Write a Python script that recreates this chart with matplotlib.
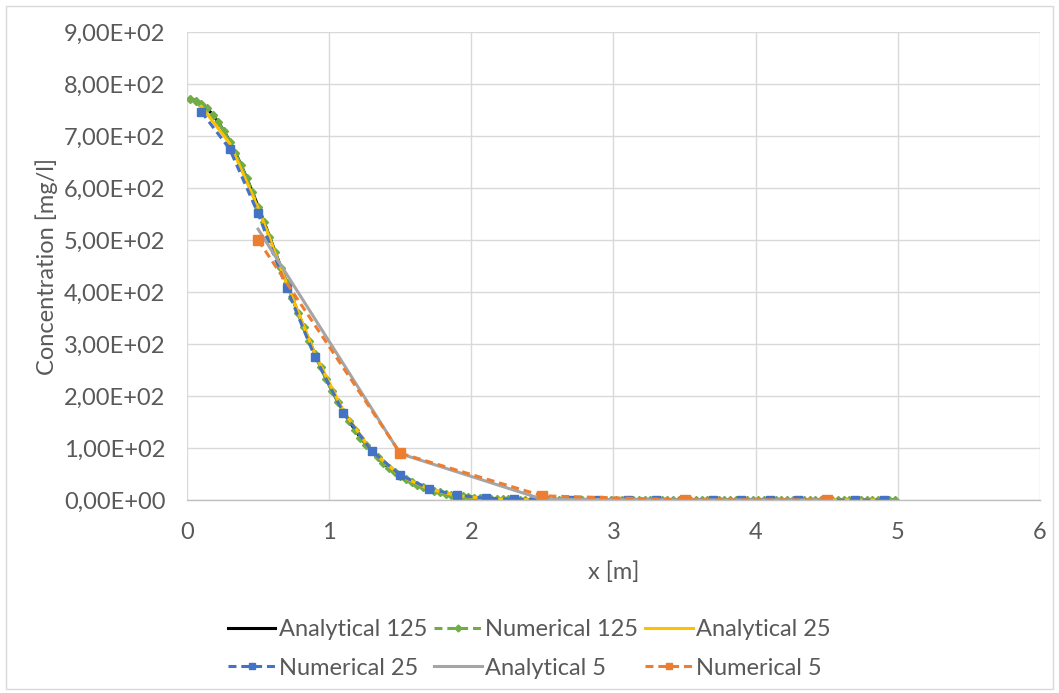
import matplotlib.pyplot as plt
from matplotlib.ticker import FuncFormatter, MultipleLocator
from matplotlib.patches import Rectangle
from matplotlib.lines import Line2D

plt.rcParams['font.family'] = ['Lato', 'DejaVu Sans']

# 125 cells, dx = 0.04
x125 = [round(0.02 + 0.04 * i, 2) for i in range(125)]
ana125 = [771.6, 768.5, 762.4, 753.3, 741.3, 726.7, 709.5, 689.9, 668.2, 644.5,
          619.2, 592.6, 564.8, 536.2, 506.9, 477.5, 447.9, 418.4, 389.3, 360.8,
          333.1, 306.2, 280.5, 255.8, 232.4, 210.3, 189.5, 170.1, 152.1, 135.4,
          120.1, 106.1, 93.3, 81.8, 71.4, 62.1, 53.8, 46.4, 39.9, 34.1,
          29.0, 24.6, 20.8, 17.5, 14.7, 12.3, 10.2, 8.5, 7.0, 5.7,
          4.7, 3.8, 3.1, 2.5, 2.0, 1.6, 1.3, 1.0, 0.8, 0.6,
          0.5, 0.4, 0.3, 0.2, 0.2, 0.1, 0.1, 0, 0, 0,
          0, 0, 0, 0, 0, 0, 0, 0, 0, 0,
          0, 0, 0, 0, 0, 0, 0, 0, 0, 0,
          0, 0, 0, 0, 0, 0, 0, 0, 0, 0,
          0, 0, 0, 0, 0, 0, 0, 0, 0, 0,
          0, 0, 0, 0, 0, 0, 0, 0, 0, 0,
          0, 0, 0, 0, 0]
num125 = [771.0, 768.0, 762.0, 753.0, 741.0, 726.0, 709.0, 689.0, 667.5, 644.0,
          618.5, 592.0, 564.0, 535.5, 506.0, 476.5, 447.0, 417.5, 388.5, 360.0,
          332.5, 305.5, 280.0, 255.3, 232.0, 210.0, 189.2, 169.9, 152.0, 135.3,
          120.0, 106.0, 93.3, 81.8, 71.5, 62.2, 53.9, 46.5, 40.0, 34.2,
          29.1, 24.7, 20.9, 17.6, 14.8, 12.4, 10.3, 8.6, 7.1, 5.8,
          4.8, 3.9, 3.2, 2.6, 2.1, 1.7, 1.3, 1.0, 0.8, 0.6,
          0.5, 0.4, 0.3, 0.2, 0.2, 0.1, 0.1, 0, 0, 0,
          0, 0, 0, 0, 0, 0, 0, 0, 0, 0,
          0, 0, 0, 0, 0, 0, 0, 0, 0, 0,
          0, 0, 0, 0, 0, 0, 0, 0, 0, 0,
          0, 0, 0, 0, 0, 0, 0, 0, 0, 0,
          0, 0, 0, 0, 0, 0, 0, 0, 0, 0,
          0, 0, 0, 0, 0]

# 25 cells, dx = 0.2
x25 = [0.1, 0.3, 0.5, 0.7, 0.9, 1.1, 1.3, 1.5, 1.7, 1.9, 2.1, 2.3, 2.5,
       2.7, 2.9, 3.1, 3.3, 3.5, 3.7, 3.9, 4.1, 4.3, 4.5, 4.7, 4.9]
ana25 = [757, 686, 562, 417, 281, 171, 94, 47, 21, 8.5, 3, 1, 0.3,
         0.1, 0, 0, 0, 0, 0, 0, 0, 0, 0, 0, 0]
num25 = [747, 675, 551, 408, 275, 168, 94, 48, 22, 9, 3.5, 1.5, 0.5,
         0.2, 0, 0, 0, 0, 0, 0, 0, 0, 0, 0, 0]

# 5 cells, dx = 1
x5 = [0.5, 1.5, 2.5, 3.5, 4.5]
ana5 = [521, 89, 1.5, 0, 0]
num5 = [500, 90, 8, 0.3, 0]

names = ['Analytical 125', 'Numerical 125', 'Analytical 25',
         'Numerical 25', 'Analytical 5', 'Numerical 5']
colors = ['black', '#70AD47', '#FFC000', '#4472C4', '#A5A5A5', '#ED7D31']
dash = (2.6, 1.6)

fig = plt.figure(figsize=(10.59, 6.93), dpi=100)
ax = fig.add_axes([0.1766, 0.2785, 0.8054, 0.6753])

ax.plot(x125, ana125, '-', color=colors[0], lw=2.2)
ax.plot(x125, num125, '--', dashes=dash, color=colors[1], lw=2.2, marker='D', ms=4.5)
ax.plot(x25, ana25, '-', color=colors[2], lw=2.2)
ax.plot(x25, num25, '--', dashes=dash, color=colors[3], lw=2.2, marker='s', ms=6)
ax.plot(x5, ana5, '-', color=colors[4], lw=2.2)
ax.plot(x5, num5, '--', dashes=dash, color=colors[5], lw=2.2, marker='s', ms=6.5)

ax.set_xlim(0, 6)
ax.set_ylim(0, 900)
ax.xaxis.set_major_locator(MultipleLocator(1))
ax.yaxis.set_major_locator(MultipleLocator(100))
ax.yaxis.set_major_formatter(FuncFormatter(lambda v, p: f'{v:.2E}'.replace('.', ',')))
ax.grid(True, color='#D9D9D9', lw=1)
ax.set_axisbelow(True)
for s in ['top', 'right', 'left']:
    ax.spines[s].set_visible(False)
ax.spines['bottom'].set_color('#BFBFBF')
ax.spines['bottom'].set_linewidth(1)
ax.tick_params(length=0, labelsize=17, colors='#595959')
ax.tick_params(axis='x', pad=16)
ax.tick_params(axis='y', pad=15.5)

ax.set_xlabel('x [m]', fontsize=17, color='#595959', labelpad=13)
ax.set_ylabel('Concentration [mg/l]', fontsize=17, color='#595959', labelpad=4)

# legend proxies with smaller markers, filled row by row
proxy = [
    Line2D([], [], color=colors[0], lw=2.2),
    Line2D([], [], color=colors[1], lw=2.2, ls='--', dashes=dash, marker='D', ms=3.5),
    Line2D([], [], color=colors[2], lw=2.2),
    Line2D([], [], color=colors[3], lw=2.2, ls='--', dashes=dash, marker='s', ms=4.5),
    Line2D([], [], color=colors[4], lw=2.2),
    Line2D([], [], color=colors[5], lw=2.2, ls='--', dashes=dash, marker='s', ms=4.5),
]
order = [0, 3, 1, 4, 2, 5]
fig.legend([proxy[i] for i in order], [names[i] for i in order], loc='center',
           bbox_to_anchor=(0.5, 0.064), ncol=3, frameon=False, fontsize=17,
           labelcolor='#595959', handlelength=2.0, handletextpad=0.15,
           columnspacing=0.3, labelspacing=0.75)

fig.add_artist(Rectangle((0.006, 0.006), 0.988, 0.985, transform=fig.transFigure,
                         fill=False, edgecolor='#D9D9D9', lw=1))

fig.savefig('out.png', dpi=100)
